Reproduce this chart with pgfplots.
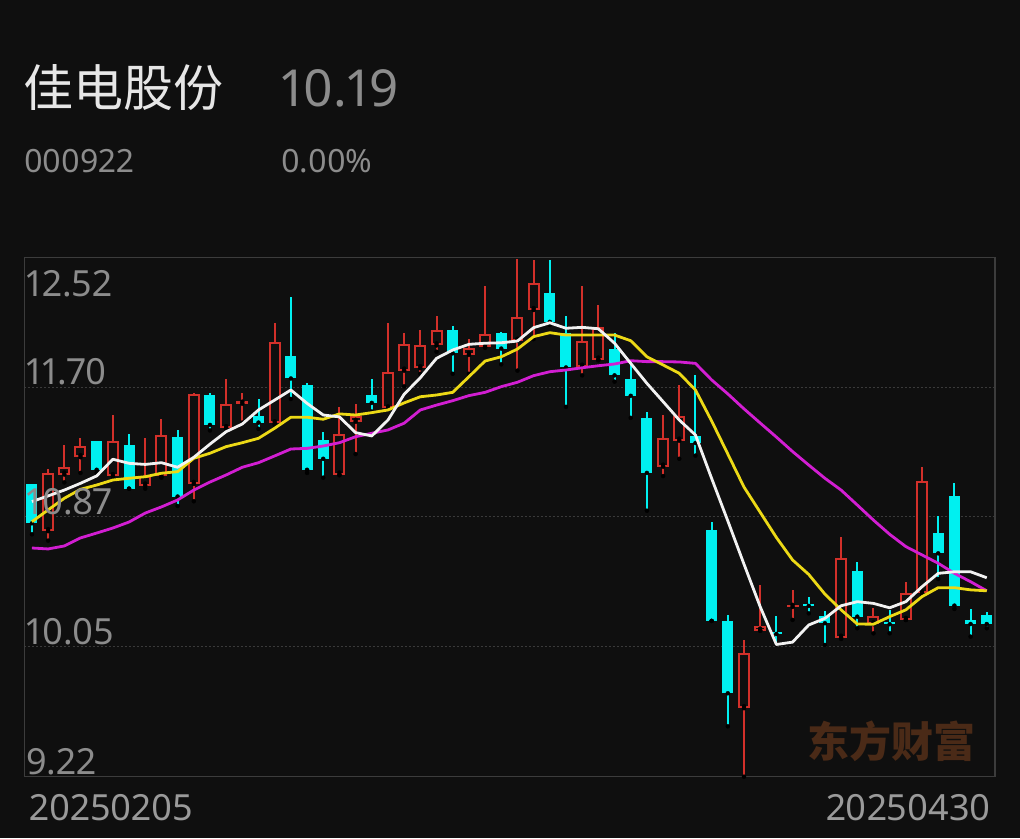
\documentclass[border=0pt]{standalone}
\usepackage{fontspec}
\setmainfont{Noto Sans}[Numbers=Proportional]
\newfontfamily\cjk{Noto Sans CJK SC}
\usepackage{pgfplots}
\usepackage{pgfplotstable}
\pgfplotsset{compat=1.18}

\definecolor{cbg}{HTML}{0F0F0F}
\definecolor{cframe}{HTML}{3C3C3C}
\definecolor{cgrid}{HTML}{3A3A3A}
\definecolor{clab}{HTML}{8C8C8C}
\definecolor{cdate}{HTML}{9A9A9A}
\definecolor{ctitle}{HTML}{E6E6E6}
\definecolor{cred}{HTML}{D2302A}
\definecolor{ccyan}{HTML}{00F0F0}
\definecolor{cyel}{HTML}{ECD916}
\definecolor{cmag}{HTML}{D21ED2}
\definecolor{cwhite}{HTML}{F2F2F2}
\definecolor{cwm}{HTML}{4A2A17}

% x open high low close  (red = close above open)
\pgfplotstableread{
x o h l c
1 10.78 11.175 10.72 11.15
2 11.14 11.33 11.09 11.19
3 11.25 11.37 11.15 11.32
5 11.13 11.52 11.125 11.35
7 11.07 11.37 11.05 11.13
8 11.13 11.49 11.12 11.39
10 11.08 11.655 10.97 11.65
12 11.435 11.745 11.43 11.59
13 11.59 11.66 11.47 11.605
15 11.465 12.10 11.455 11.98
19 11.14 11.57 11.135 11.40
20 11.475 11.59 11.27 11.51
22 11.56 12.10 11.555 11.79
23 11.80 12.04 11.70 11.97
24 11.815 12.06 11.78 11.96
25 11.96 12.15 11.92 12.06
27 11.90 12.00 11.78 11.945
28 11.95 12.34 11.945 12.03
30 11.99 12.51 11.80 12.14
31 12.185 12.50 12.00 12.355
34 11.825 12.34 11.77 11.99
35 11.87 12.22 11.865 12.08
39 11.19 11.52 11.13 11.37
40 11.355 11.71 11.24 11.51
44 9.655 10.09 9.22 10.005
45 10.148 10.44 10.148 10.18
47 10.299 10.406 10.216 10.311
50 10.103 10.745 10.095 10.608
52 10.189 10.294 10.131 10.243
54 10.216 10.455 10.216 10.385
55 10.385 11.19 10.375 11.099
}\redtab

% x open high low close  (cyan = close below open)
\pgfplotstableread{
x o h l c
0 11.08 11.08 10.76 10.83
4 11.35 11.35 11.15 11.17
6 11.33 11.40 11.05 11.05
9 11.38 11.42 10.94 11.00
11 11.645 11.66 11.42 11.455
14 11.51 11.62 11.43 11.47
16 11.89 12.27 11.62 11.75
17 11.71 11.72 11.15 11.17
18 11.36 11.41 11.12 11.24
21 11.645 11.745 11.54 11.595
26 12.06 12.085 11.78 11.91
29 12.04 12.045 11.84 11.94
32 12.29 12.50 12.09 12.11
33 12.04 12.15 11.57 11.82
36 11.94 12.04 11.73 11.77
37 11.745 11.86 11.50 11.64
38 11.50 11.54 10.91 11.15
41 11.385 11.77 11.26 11.34
42 10.79 10.84 10.21 10.21
43 10.21 10.25 9.54 9.75
46 10.138 10.243 10.06 10.127
48 10.316 10.364 10.258 10.305
49 10.239 10.273 10.057 10.195
51 10.527 10.583 10.163 10.237
53 10.195 10.28 10.131 10.189
56 10.766 10.876 10.476 10.639
57 11.001 11.084 10.286 10.307
58 10.216 10.286 10.11 10.19
59 10.248 10.265 10.163 10.19
}\cyantab

\pgfplotsset{
  bar/.style 2 args={only marks, mark=none, forget plot,
    error bars/.cd, y dir=plus, y explicit, error mark=none,
    error bar style={draw=#1, line width=#2, line cap=butt}},
  ma/.style={#1, line width=2.8pt, line join=round, mark=none},
  frame/.style={at={(24.5pt,61.3pt)}, anchor=south west,
    scale only axis, width=970.5pt, height=519.4pt,
    xmin=-0.46, xmax=59.51, ymin=9.22, ymax=12.52},
}

\begin{document}
\begin{tikzpicture}
\fill[cbg] (0pt,0pt) rectangle (1020pt,838pt);
\useasboundingbox (0pt,0pt) rectangle (1020pt,838pt);

% watermark
\node[anchor=base west, inner sep=0, text=cwm, font=\cjk\bfseries\fontsize{42}{42}\selectfont] at (807pt,80pt) {东方财富};

\begin{axis}[
  frame,
  xtick=\empty, ytick={10.045,10.87,11.695}, yticklabel=\empty,
  major tick length=0pt,
  ymajorgrids, grid style={draw=cgrid, line width=1pt, dash pattern=on 2pt off 2pt},
  axis line style={draw=cframe, line width=1.5pt},
]
% wicks
\addplot[bar={cred}{2pt}] table[x=x, y=l, y error plus expr={\thisrow{h}-\thisrow{l}}] \redtab;
\addplot[bar={ccyan}{2pt}] table[x=x, y=l, y error plus expr={\thisrow{h}-\thisrow{l}}] \cyantab;
% bodies
\addplot[bar={ccyan}{11pt}] table[x=x, y=c, y error plus expr={max(\thisrow{o}-\thisrow{c},0.012)}] \cyantab;
\addplot[bar={cred}{12pt}] table[x=x, y=o, y error plus expr={max(\thisrow{c}-\thisrow{o},0.012)}] \redtab;
\addplot[bar={cbg}{8pt}] table[x=x, y expr={\thisrow{o}+0.0127}, y error plus expr={max(\thisrow{c}-\thisrow{o}-0.0254,0)}] \redtab;
\end{axis}

\begin{axis}[frame, hide axis]
% MA20
\addplot[ma=cmag] coordinates {
(0,10.673)(1,10.667)(2,10.686)(3,10.737)(4,10.768)(5,10.800)(6,10.838)(7,10.895)(8,10.934)(9,10.978)
(10,11.041)(11,11.092)(12,11.137)(13,11.186)(14,11.215)(15,11.258)(16,11.302)(17,11.306)(18,11.321)(19,11.342)
(20,11.380)(21,11.402)(22,11.423)(23,11.466)(24,11.550)(25,11.581)(26,11.609)(27,11.641)(28,11.662)(29,11.698)
(30,11.726)(31,11.768)(32,11.793)(33,11.804)(34,11.818)(35,11.831)(36,11.842)(37,11.863)(38,11.857)(39,11.857)
(40,11.855)(41,11.846)(42,11.741)(43,11.652)(44,11.557)(45,11.467)(46,11.378)(47,11.286)(48,11.200)(49,11.116)
(50,11.041)(51,10.946)(52,10.850)(53,10.760)(54,10.682)(55,10.629)(56,10.576)(57,10.512)(58,10.459)(59,10.401)
};
% MA10
\addplot[ma=cyel] coordinates {
(0,10.840)(1,10.915)(2,10.989)(3,11.046)(4,11.073)(5,11.105)(6,11.116)(7,11.126)(8,11.148)(9,11.158)
(10,11.243)(11,11.275)(12,11.317)(13,11.342)(14,11.370)(15,11.434)(16,11.504)(17,11.504)(18,11.491)(19,11.525)
(20,11.518)(21,11.533)(22,11.550)(23,11.595)(24,11.634)(25,11.645)(26,11.662)(27,11.761)(28,11.861)(29,11.888)
(30,11.937)(31,12.016)(32,12.041)(33,12.026)(34,12.026)(35,12.026)(36,12.026)(37,11.990)(38,11.888)(39,11.836)
(40,11.783)(41,11.677)(42,11.48)(43,11.27)(44,11.06)(45,10.90)(46,10.74)(47,10.597)(48,10.505)(49,10.38)
(50,10.28)(51,10.19)(52,10.189)(53,10.237)(54,10.280)(55,10.364)(56,10.421)(57,10.421)(58,10.407)(59,10.401)
};
% MA5
\addplot[ma=cwhite] coordinates {
(0,10.968)(1,11.004)(2,11.041)(3,11.084)(4,11.131)(5,11.237)(6,11.211)(7,11.204)(8,11.215)(9,11.186)
(10,11.249)(11,11.333)(12,11.412)(13,11.461)(14,11.550)(15,11.613)(16,11.677)(17,11.592)(18,11.518)(19,11.506)
(20,11.406)(21,11.385)(22,11.486)(23,11.650)(24,11.755)(25,11.878)(26,11.931)(27,11.967)(28,11.974)(29,11.977)
(30,11.988)(31,12.073)(32,12.104)(33,12.069)(34,12.075)(35,12.066)(36,11.974)(37,11.846)(38,11.719)(39,11.603)
(40,11.486)(41,11.391)(42,11.115)(43,10.845)(44,10.57)(45,10.30)(46,10.06)(47,10.075)(48,10.184)(49,10.226)
(50,10.306)(51,10.332)(52,10.321)(53,10.293)(54,10.332)(55,10.427)(56,10.512)(57,10.522)(58,10.522)(59,10.484)
};
\end{axis}

% titles
\node[anchor=base west, inner sep=0, text=ctitle, font=\cjk\fontsize{50}{50}\selectfont] at (23pt,731pt) {佳电股份};
\node[anchor=base west, inner sep=0, text=clab, font=\fontsize{51}{51}\selectfont] at (281pt,731pt) {10.19};
\node[anchor=base west, inner sep=0, text=clab, font=\fontsize{32}{32}\selectfont] at (24pt,665.3pt) {000922};
\node[anchor=base west, inner sep=0, text=clab, font=\fontsize{32}{32}\selectfont] at (281pt,665.3pt) {0.00\%};

% y labels
\begin{scope}[every node/.style={anchor=base west, inner sep=0, text=clab, font=\fontsize{36}{36}\selectfont}]
\node at (26pt,541.3pt) {12.52};
\node at (26pt,453.5pt) {11.70};
\node at (26pt,323pt) {10.87};
\node at (26pt,193pt) {10.05};
\node at (26pt,63.7pt) {9.22};
\end{scope}

% dates
\node[anchor=base west, inner sep=0, text=cdate, font=\fontsize{36}{36}\selectfont] at (29pt,17.3pt) {20250205};
\node[anchor=base east, inner sep=0, text=cdate, font=\fontsize{36}{36}\selectfont] at (991pt,17.3pt) {20250430};
\end{tikzpicture}
\end{document}
